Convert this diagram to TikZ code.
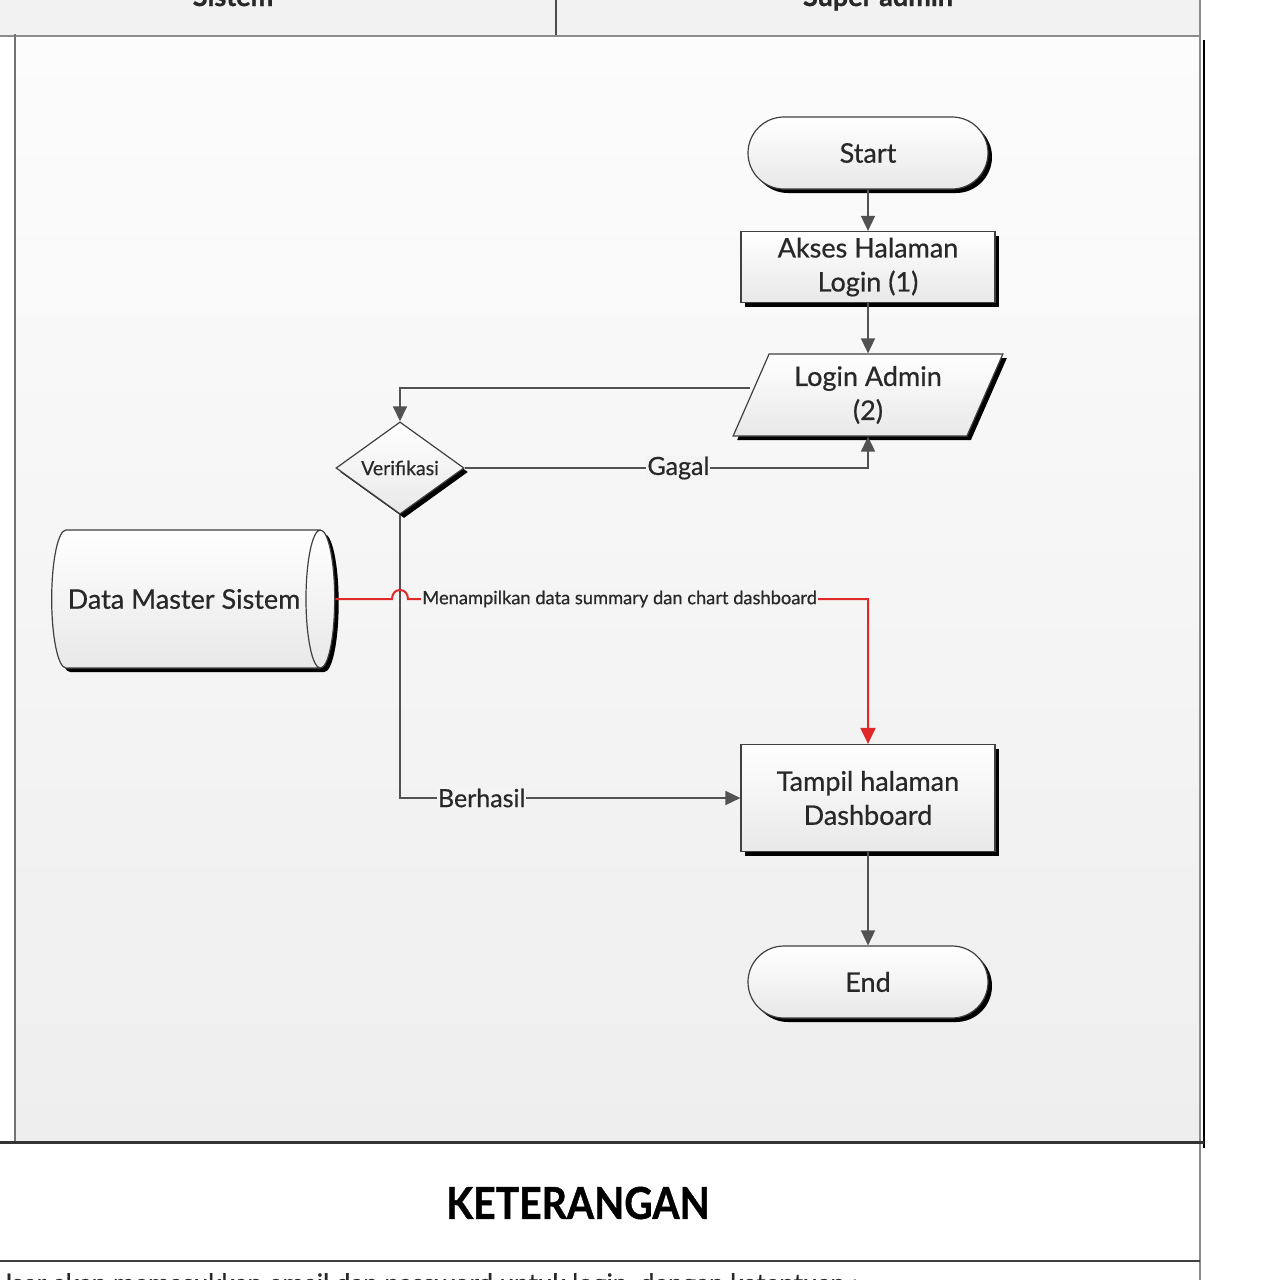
\documentclass[tikz,border=0pt]{standalone}
\usepackage{fontspec}
\setmainfont{Lato}[FakeBold=0.6]
\newfontfamily\hdrfont{Lato}[FakeBold=1]
\usetikzlibrary{shapes.geometric,shapes.misc,shadows,arrows.meta}
\definecolor{lanetop}{RGB}{252,252,252}
\definecolor{lanebot}{RGB}{238,238,238}
\definecolor{hdr}{RGB}{242,242,242}
\definecolor{lblbg}{RGB}{244,244,244}
\definecolor{redline}{RGB}{225,40,40}
\definecolor{txt}{RGB}{40,40,40}
\begin{document}
\begin{tikzpicture}[x=1pt,y=-1pt,
  shp/.style={draw=black!75, line width=1.2pt, top color=white, bottom color=black!9,
    drop shadow={fill=black, opacity=1, shadow xshift=4pt, shadow yshift=-4pt},
    font=\fontsize{27}{34}\selectfont, align=center, text=txt, inner sep=2pt},
  term/.style={shp, rounded rectangle, minimum width=244pt, minimum height=72pt},
  proc/.style={shp, rectangle, minimum width=254pt},
  io/.style={shp, trapezium, trapezium left angle=66, trapezium right angle=114,
    trapezium stretches=true, minimum width=270pt, minimum height=82pt},
  dec/.style={shp, diamond, minimum width=128pt, minimum height=92pt, inner sep=0pt,
    font=\fontsize{19.5}{22}\selectfont},
  db/.style={shp, cylinder, shape border rotate=0, shape aspect=1.2,
    minimum width=138pt, minimum height=283pt},
  conn/.style={draw=black!68, line width=1.6pt, -{Triangle[length=15pt,width=14pt]}},
  redconn/.style={draw=redline, line width=2pt, -{Triangle[length=16pt,width=15pt]}},
  lbl/.style={fill=lblbg, inner sep=1pt, text=txt, font=\fontsize{25}{27}\selectfont},
  smlbl/.style={fill=lblbg, inner sep=1pt, text=txt, font=\fontsize{18.3}{20}\selectfont}
]
\clip (0,0) rectangle (1280,1280);
\fill[white] (0,0) rectangle (1280,1280);
% header
\fill[hdr] (0,-5) rectangle (1200,35);
\node[anchor=base, font=\hdrfont\bfseries\fontsize{27}{30}\selectfont, text=txt] (hsis) at (233,6) {Sistem};
\node[anchor=base, font=\hdrfont\bfseries\fontsize{27}{30}\selectfont, text=txt] (hsup) at (878,6) {Super admin};
\draw[black!70, line width=2pt] (556,0) -- (556,36);
% lane
\shade[top color=lanetop, bottom color=lanebot] (15,38) rectangle (1200,1142);
\draw[black!45, line width=2.5pt] (0,36) -- (1200,36);
\draw[black!55, line width=2.5pt] (15,34) -- (15,1142);
\draw[black!45, line width=2pt] (1200,0) -- (1200,1280);
\draw[black, line width=2.5pt] (1204,40) -- (1204,1148);
\draw[black!80, line width=3pt] (0,1142) -- (1204,1142);
\draw[black!75, line width=2pt] (0,1261) -- (1200,1261);
\node[font=\hdrfont\bfseries\fontsize{44}{50}\selectfont, text=black] (ket) at (578,1203) {\scalebox{0.89}[1]{KETERANGAN}};
\node[anchor=north west, font=\fontsize{26}{30}\selectfont, text=txt, inner sep=0pt] (note) at (-7,1273) {User akan memasukkan email dan password untuk login, dengan ketentuan :};

% nodes
\node[term] (start) at (868,153) {Start};
\node[proc, minimum height=71pt] (akses) at (868,267) {Akses Halaman\\Login (1)};
\node[io] (login) at (868,395) {Login Admin\\(2)};
\node[dec] (ver) at (400,468) {Verifikasi};
\node[db] (dm) at (184,599) {Data Master Sistem};
\node[proc, minimum height=107pt] (tampil) at (868,798) {Tampil halaman\\Dashboard};
\node[term] (end) at (868,982) {End};

% connectors
\draw[conn] (start) -- (akses);
\draw[conn] (akses) -- (login);
\draw[conn] ([yshift=7pt]login.west) -| (ver.north);
\draw[conn] (ver.east) -| node[lbl, pos=0.265] {Gagal} (login.south);
\draw[conn] (ver.south) |- node[lbl, pos=0.62] {Berhasil} (tampil.west);
\coordinate (h1) at (392,599);
\coordinate (h2) at (408,599);
\draw[redconn] (dm.east) -- (h1) .. controls +(0,-12) and +(0,-12) .. (h2)
  -- node[smlbl, pos=0.46] {Menampilkan data summary dan chart dashboard} (h2 -| tampil.north)
  -- (tampil.north);
\draw[conn] (tampil) -- (end);
\end{tikzpicture}
\end{document}
